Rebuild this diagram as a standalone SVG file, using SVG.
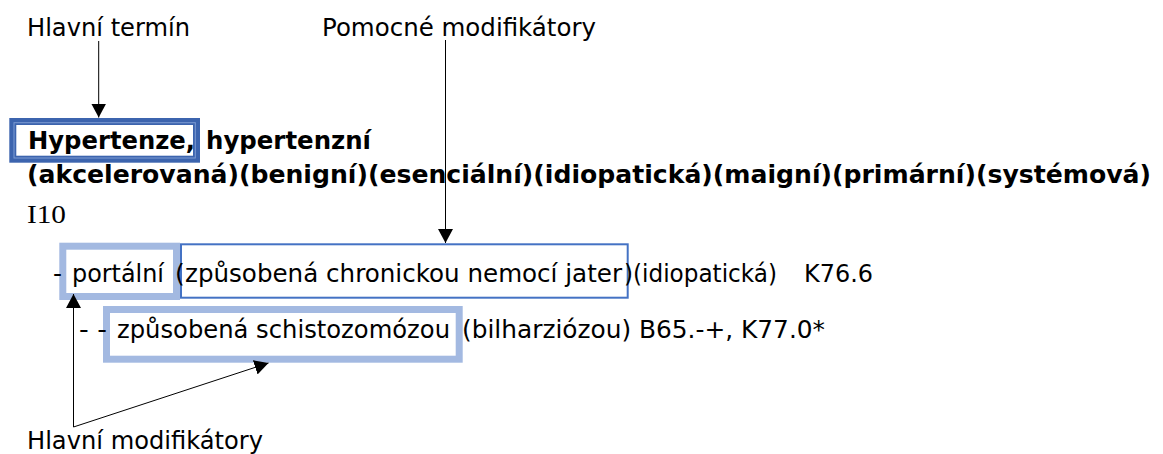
<svg xmlns="http://www.w3.org/2000/svg" width="1163" height="454" viewBox="0 0 1163 454">
<style>
.t{font-family:"DejaVu Sans",Verdana,sans-serif;font-size:25px;fill:#000}
.b{font-family:"DejaVu Sans",Verdana,sans-serif;font-size:25px;font-weight:bold;fill:#000}
.s{font-family:"Liberation Serif","Times New Roman",serif;font-size:25px;fill:#000}
.lb{fill:none;stroke:#a3b9e1;stroke-width:7}
.bl{fill:none;stroke:#4472c4;stroke-width:2}
.c{fill:none;stroke:#000;stroke-width:1}
</style>
<defs>
<marker id="ah" markerUnits="userSpaceOnUse" markerWidth="16" markerHeight="16" viewBox="0 0 16 16" refX="14" refY="8" orient="auto">
<path d="M0,0.5 L14,8 L0,15.5 Z" fill="#000"/>
</marker>
</defs>
<rect width="1163" height="454" fill="#fff"/>
<g id="label-hlavni-termin"><text class="t" x="27" y="36" textLength="163" lengthAdjust="spacingAndGlyphs">Hlavní termín</text></g>
<g id="label-pomocne"><text class="t" x="322" y="36" textLength="274" lengthAdjust="spacingAndGlyphs">Pomocné modifikátory</text></g>
<g id="term-hypertenze">
<rect x="12.8" y="121.5" width="183.7" height="37.7" fill="none" stroke="#3c64ae" stroke-width="7"/>
<rect x="14" y="122.7" width="181.3" height="35.3" fill="none" stroke="#7d9bd3" stroke-width="1"/>
<text class="b" x="28" y="149" textLength="167" lengthAdjust="spacingAndGlyphs">Hypertenze,</text>
<text class="b" x="206" y="149" textLength="165" lengthAdjust="spacingAndGlyphs">hypertenzní</text>
</g>
<g id="line-modifiers"><text class="b" x="27" y="183" textLength="1124" lengthAdjust="spacingAndGlyphs">(akcelerovaná)(benigní)(esenciální)(idiopatická)(maigní)(primární)(systémová)</text></g>
<g id="code-i10"><text class="s" x="27" y="223" textLength="39" lengthAdjust="spacingAndGlyphs">I10</text></g>
<g id="entry-portalni">
<rect class="lb" x="62.8" y="246.2" width="113.7" height="50.3"/>
<rect class="bl" x="181" y="244.3" width="446.7" height="53.4"/>
<text class="t" x="53" y="282">-</text>
<text class="t" x="72" y="282" textLength="92" lengthAdjust="spacingAndGlyphs">portální</text>
<text class="t" x="175" y="282">(</text>
<text class="t" x="185" y="282" textLength="437" lengthAdjust="spacingAndGlyphs">způsobená chronickou nemocí jater</text>
<text class="t" x="624" y="282" textLength="153" lengthAdjust="spacingAndGlyphs">)(idiopatická)</text>
<text class="t" x="804" y="282" textLength="69" lengthAdjust="spacingAndGlyphs">K76.6</text>
</g>
<g id="entry-schistozomozou">
<rect class="lb" x="106.5" y="309.5" width="352.7" height="49.7"/>
<text class="t" x="79" y="338" textLength="28" lengthAdjust="spacingAndGlyphs">- -</text>
<text class="t" x="117" y="338" textLength="333" lengthAdjust="spacingAndGlyphs">způsobená schistozomózou</text>
<text class="t" x="462" y="338" textLength="363" lengthAdjust="spacingAndGlyphs">(bilharziózou) B65.-+, K77.0*</text>
</g>
<g id="label-hlavni-modifikatory"><text class="t" x="27" y="449" textLength="236" lengthAdjust="spacingAndGlyphs">Hlavní modifikátory</text></g>
<g id="connectors">
<line class="c" x1="98.7" y1="41" x2="98.7" y2="117.5" marker-end="url(#ah)"/>
<line class="c" x1="445.5" y1="40" x2="445.5" y2="243" marker-end="url(#ah)"/>
<line class="c" x1="73.5" y1="427" x2="73.5" y2="294" marker-end="url(#ah)"/>
<line class="c" x1="73.5" y1="427" x2="268.5" y2="363" marker-end="url(#ah)"/>
</g>
</svg>
